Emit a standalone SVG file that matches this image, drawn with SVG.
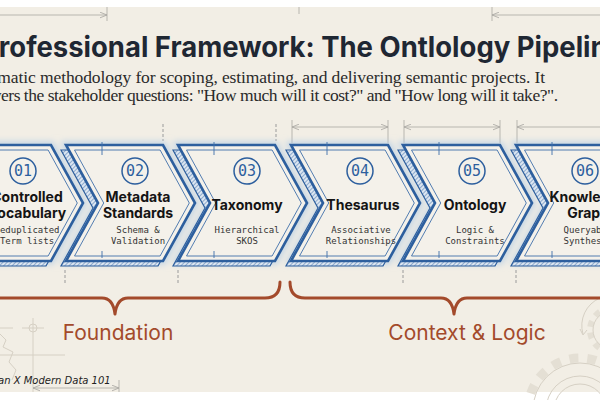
<svg xmlns="http://www.w3.org/2000/svg" xmlns:xlink="http://www.w3.org/1999/xlink" width="600" height="400" viewBox="0 0 600 400">
<style>
.bg{fill:#f2eee5}
.guide{stroke:#a9a7a2;stroke-width:0.8;fill:none}
.dash{stroke:#9a9a9a;stroke-width:1;stroke-dasharray:3 2;fill:none}
.deco{stroke:#d6d0c4;stroke-width:1;fill:none}
.shadow{fill:url(#hatch);stroke:#2d5f9e;stroke-width:1.2}
.outer{fill:#f4f1ea;stroke:#2d5f9e;stroke-width:2.6;stroke-linejoin:miter}
.inner{fill:none;stroke:#3f6faa;stroke-width:0.9}
.tick{stroke:#3f6faa;stroke-width:0.9}
.glow{fill:none;stroke:#a9c7e6;stroke-width:7;opacity:0.7}
.num-c{fill:none;stroke:#2d5f9e;stroke-width:1.5}
.num{font-family:"DejaVu Sans Mono","Liberation Mono",monospace;font-size:15px;fill:#2d5f9e;text-anchor:middle}
.ttl{font-family:Inter,"Liberation Sans",sans-serif;font-weight:700;font-size:14px;fill:#141414;text-anchor:middle}
.sub{font-family:"DejaVu Sans Mono","Liberation Mono",monospace;font-size:9px;fill:#333;text-anchor:middle}
.brace{fill:none;stroke:#a34a2b;stroke-width:3;stroke-linecap:round;stroke-linejoin:round}
.blabel{font-family:Inter,"Liberation Sans",sans-serif;font-size:21px;fill:#a34a2b;text-anchor:middle}
</style>
<defs>
<pattern id="hatch" width="3" height="3" patternUnits="userSpaceOnUse" patternTransform="rotate(45)">
<rect width="3" height="3" fill="#dce6f1"/>
<line x1="0" y1="0" x2="0" y2="3" stroke="#3f6faa" stroke-width="1"/>
</pattern>
<filter id="blur" x="-20%" y="-20%" width="140%" height="140%"><feGaussianBlur stdDeviation="3"/></filter>
<marker id="arr" viewBox="0 0 10 10" refX="10" refY="5" markerWidth="7" markerHeight="7" orient="auto-start-reverse" markerUnits="userSpaceOnUse">
<path d="M0,1 L10,5 L0,9" fill="none" stroke="#a9a7a2" stroke-width="1.2"/>
</marker>
<polygon id="outerP" points="0,0 97,0 129,58 97,116 0,116 32,58"/>
<polygon id="innerP" points="8.5,5 94.1,5 123.3,58 94.1,111 8.5,111 37.7,58"/>
<g id="chev">
<use xlink:href="#outerP" href="#outerP" class="shadow" transform="translate(-5,5)"/>
<use xlink:href="#outerP" href="#outerP" class="outer"/>
<use xlink:href="#innerP" href="#innerP" class="inner"/>
<line class="tick" x1="36" y1="-3" x2="36" y2="10"/>
<line class="tick" x1="36" y1="106" x2="36" y2="113"/>
</g>
</defs>

<rect width="600" height="400" fill="#ffffff"/>
<rect class="bg" x="0" y="7" width="600" height="385"/>

<g id="decorations">
<line class="guide" x1="0" y1="15" x2="107" y2="15" marker-end="url(#arr)"/>
<line class="guide" x1="107" y1="7" x2="107" y2="21"/>
<line class="guide" x1="299" y1="7" x2="299" y2="14"/>
<line class="guide" x1="600" y1="15" x2="492" y2="15" marker-end="url(#arr)"/>
<line class="guide" x1="492" y1="7" x2="492" y2="21"/>
<line class="dash" x1="163" y1="124" x2="163" y2="141"/>
<line class="dash" x1="276" y1="124" x2="276" y2="141"/>
<line class="guide" x1="292" y1="127" x2="388" y2="127" marker-start="url(#arr)" marker-end="url(#arr)"/>
<line class="guide" x1="292" y1="120" x2="292" y2="143"/>
<line class="guide" x1="388" y1="120" x2="388" y2="143"/>
<line class="guide" x1="404" y1="127" x2="500" y2="127" marker-start="url(#arr)" marker-end="url(#arr)"/>
<line class="guide" x1="404" y1="120" x2="404" y2="143"/>
<line class="guide" x1="500" y1="120" x2="500" y2="143"/>
<line class="guide" x1="517" y1="127" x2="613" y2="127" marker-start="url(#arr)"/>
<line class="guide" x1="517" y1="120" x2="517" y2="143"/>
<line class="dash" x1="65" y1="270" x2="65" y2="285"/>
<line class="dash" x1="178" y1="270" x2="178" y2="285"/>
<line class="dash" x1="403" y1="270" x2="403" y2="285"/>
<line class="dash" x1="516" y1="270" x2="516" y2="285"/>
<circle class="deco" cx="33" cy="328" r="4"/>
<line class="deco" x1="22" y1="328" x2="44" y2="328"/>
<line class="deco" x1="33" y1="318" x2="33" y2="392"/>
<line class="deco" x1="0" y1="328" x2="13" y2="328"/>
<line class="deco" x1="0" y1="355" x2="65" y2="355"/>
<polyline class="deco" points="0,334 6,340 3,347 13,352 9,362 16,370 12,380"/>
<line class="guide" x1="33" y1="388" x2="119" y2="388" marker-start="url(#arr)" marker-end="url(#arr)"/>
<line class="guide" x1="119" y1="380" x2="119" y2="392"/>
<circle cx="580" cy="410" r="52" fill="none" stroke="#e4dfd4" stroke-width="9" stroke-dasharray="9 9"/>
<circle class="deco" cx="580" cy="410" r="47"/>
<circle class="deco" cx="580" cy="410" r="34"/>
<circle class="deco" cx="580" cy="410" r="26"/>
<circle cx="612" cy="330" r="22" fill="none" stroke="#e4dfd4" stroke-width="6" stroke-dasharray="6 6"/>
<circle class="deco" cx="612" cy="330" r="19"/>
<path class="deco" d="M600,298 A30,30 0 0 0 583,334"/>
<path class="deco" d="M580,329 L583,335 L587,330"/>
</g>

<g id="title">
<text x="-19" y="57" textLength="643" lengthAdjust="spacingAndGlyphs" font-family="Inter,'Liberation Sans',sans-serif" font-weight="700" font-size="28" fill="#1f2733">Professional Framework: The Ontlology Pipeline</text>
<text x="-53" y="83" textLength="598" font-family="'Liberation Serif',serif" font-size="17.5" fill="#2a2a2a">A systematic methodology for scoping, estimating, and delivering semantic projects. It</text>
<text x="-33" y="101" textLength="591" font-family="'Liberation Serif',serif" font-size="17.5" fill="#2a2a2a">answers the stakeholder questions: "How much will it cost?" and "How long will it take?".</text>
</g>

<g id="glow" filter="url(#blur)">
<use xlink:href="#outerP" href="#outerP" class="glow" transform="translate(-46,145)"/>
<use xlink:href="#outerP" href="#outerP" class="glow" transform="translate(66,145)"/>
<use xlink:href="#outerP" href="#outerP" class="glow" transform="translate(178,145)"/>
<use xlink:href="#outerP" href="#outerP" class="glow" transform="translate(291,145)"/>
<use xlink:href="#outerP" href="#outerP" class="glow" transform="translate(403,145)"/>
<use xlink:href="#outerP" href="#outerP" class="glow" transform="translate(516,145)"/>
</g>

<g id="node-01" transform="translate(-46,145)">
<use xlink:href="#chev" href="#chev"/>
<circle class="num-c" cx="69" cy="26" r="13"/>
<text class="num" x="69" y="31">01</text>
<text class="ttl" x="73" y="57">Controlled</text>
<text class="ttl" x="73" y="73">Vocabulary</text>
<text class="sub" x="73" y="88">Deduplicated</text>
<text class="sub" x="73" y="99">Term lists</text>
</g>

<g id="node-02" transform="translate(66,145)">
<use xlink:href="#chev" href="#chev"/>
<circle class="num-c" cx="69" cy="26" r="13"/>
<text class="num" x="69" y="31">02</text>
<text class="ttl" x="72" y="57">Metadata</text>
<text class="ttl" x="72" y="73">Standards</text>
<text class="sub" x="72" y="88">Schema &amp;</text>
<text class="sub" x="72" y="99">Validation</text>
</g>

<g id="node-03" transform="translate(178,145)">
<use xlink:href="#chev" href="#chev"/>
<circle class="num-c" cx="69" cy="26" r="13"/>
<text class="num" x="69" y="31">03</text>
<text class="ttl" x="69" y="65">Taxonomy</text>
<text class="sub" x="69" y="88">Hierarchical</text>
<text class="sub" x="69" y="99">SKOS</text>
</g>

<g id="node-04" transform="translate(291,145)">
<use xlink:href="#chev" href="#chev"/>
<circle class="num-c" cx="69" cy="26" r="13"/>
<text class="num" x="69" y="31">04</text>
<text class="ttl" x="72" y="65">Thesaurus</text>
<text class="sub" x="70" y="88">Associative</text>
<text class="sub" x="70" y="99">Relationships</text>
</g>

<g id="node-05" transform="translate(403,145)">
<use xlink:href="#chev" href="#chev"/>
<circle class="num-c" cx="69" cy="26" r="13"/>
<text class="num" x="69" y="31">05</text>
<text class="ttl" x="72" y="65">Ontology</text>
<text class="sub" x="72" y="88">Logic &amp;</text>
<text class="sub" x="72" y="99">Constraints</text>
</g>

<g id="node-06" transform="translate(516,145)">
<use xlink:href="#chev" href="#chev"/>
<circle class="num-c" cx="69" cy="26" r="13"/>
<text class="num" x="69" y="31">06</text>
<text class="ttl" x="72" y="57">Knowledge</text>
<text class="ttl" x="72" y="73">Graph</text>
<text class="sub" x="72" y="88">Queryable</text>
<text class="sub" x="72" y="99">Synthesis</text>
</g>

<g id="braces">
<path class="brace" d="M-50,282 Q-50,298 -35,298 L102,298 Q113,298 115,314 Q117,298 128,298 L265,298 Q280,298 280,282"/>
<path class="brace" d="M290,282 Q290,298 305,298 L441,298 Q452,298 454,314 Q456,298 467,298 L603,298 Q618,298 618,282"/>
<text class="blabel" x="118" y="340">Foundation</text>
<text class="blabel" x="467" y="340">Context &amp; Logic</text>
</g>

<g id="credit">
<text x="-2" y="384" font-family="'DejaVu Sans',sans-serif" font-style="italic" font-size="10" fill="#222">an X Modern Data 101</text>
</g>
</svg>
